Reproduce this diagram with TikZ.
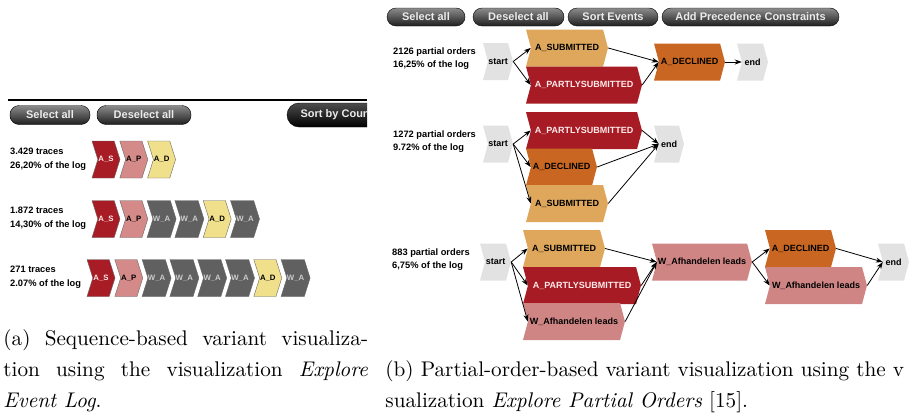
\documentclass[tikz,border=0pt]{standalone}
\usepackage{amsmath}
\usepackage{fontspec}
\setsansfont{Liberation Sans}
\usepackage{tikz}
\usetikzlibrary{shapes.symbols,arrows.meta}

\definecolor{asub}{HTML}{DEA75C}
\definecolor{apart}{HTML}{A61B24}
\definecolor{adecl}{HTML}{C96722}
\definecolor{wafh}{HTML}{D08585}
\definecolor{bound}{HTML}{E2E2E2}
\definecolor{seqS}{HTML}{A81C25}
\definecolor{seqP}{HTML}{D58A8A}
\definecolor{seqW}{HTML}{606060}
\definecolor{seqD}{HTML}{F0E08C}

\begin{document}
\begin{tikzpicture}[x=1pt,y=-1pt,
  btn/.style={draw=black,rounded corners=9pt,top color=black!45,bottom color=black!88,
    text=black!8,minimum height=19pt,inner sep=0pt,font=\sffamily\bfseries\fontsize{11}{12}\selectfont},
  seq/.style={shape=signal,signal from=west,signal to=east,signal pointer angle=145,
    draw=black!60,minimum width=28pt,minimum height=37pt,inner sep=0pt,
    font=\sffamily\bfseries\fontsize{7.8}{9}\selectfont},
  po/.style={shape=signal,signal from=west,signal to=east,signal pointer angle=150,
    minimum height=37pt,inner sep=0pt,font=\sffamily\bfseries\fontsize{9}{10}\selectfont},
  lbl/.style={align=left,anchor=west,inner sep=0pt,font=\sffamily\bfseries\fontsize{9.3}{13.5}\selectfont},
  captext/.style={anchor=base west,inner sep=0pt,scale=2.12},
  arr/.style={black,line width=0.8pt,-{Stealth[length=7pt,width=5pt]}}]
\clip (0,0) rectangle (913,415);

% (a) sequences
\draw [black,line width=1.2pt] (8,100) -- (367,100);
\node [btn,minimum width=80pt] (selA) at (50,115) {Select all};
\node [btn,minimum width=94pt] (deselA) at (144,115) {Deselect all};
\begin{scope}
\clip (0,95) rectangle (367,135);
\node [btn,minimum width=100pt,minimum height=24pt,rounded corners=12pt,top color=black!70,bottom color=black,
  font=\sffamily\bfseries\fontsize{11}{12}\selectfont] (sortA) at (337,115) {Sort by Count};
\end{scope}

\node [lbl] (tr1) at (10,159) {3.429 traces\\26,20\% of the log};
\node [seq,fill=seqS,text=red!8] (s11) at (106,159.5) {A\_S};
\node [seq,fill=seqP,text=black] (s12) at (133.8,159.5) {A\_P};
\node [seq,fill=seqD,text=black] (s13) at (161.6,159.5) {A\_D};

\node [lbl] (tr2) at (10,218) {1.872 traces\\14,30\% of the log};
\node [seq,fill=seqS,text=red!8] (s21) at (106,219) {A\_S};
\node [seq,fill=seqP,text=black] (s22) at (133.8,219) {A\_P};
\node [seq,fill=seqW,text=black!20] (s23) at (161.6,219) {W\_A};
\node [seq,fill=seqW,text=black!20] (s24) at (189.4,219) {W\_A};
\node [seq,fill=seqD,text=black] (s25) at (217.2,219) {A\_D};
\node [seq,fill=seqW,text=black!20] (s26) at (245,219) {W\_A};

\node [lbl] (tr3) at (10,277) {271 traces\\2.07\% of the log};
\node [seq,fill=seqS,text=red!8] (s31) at (101,278) {A\_S};
\node [seq,fill=seqP,text=black] (s32) at (128.8,278) {A\_P};
\node [seq,fill=seqW,text=black!20] (s33) at (156.6,278) {W\_A};
\node [seq,fill=seqW,text=black!20] (s34) at (184.4,278) {W\_A};
\node [seq,fill=seqW,text=black!20] (s35) at (212.2,278) {W\_A};
\node [seq,fill=seqW,text=black!20] (s36) at (240,278) {W\_A};
\node [seq,fill=seqD,text=black] (s37) at (267.8,278) {A\_D};
\node [seq,fill=seqW,text=black!20] (s38) at (295.6,278) {W\_A};

% (b) partial orders
\node [btn,minimum width=78pt,minimum height=18pt] (selB) at (426,17) {Select all};
\node [btn,minimum width=91pt,minimum height=18pt] (deselB) at (518.5,17) {Deselect all};
\node [btn,minimum width=90pt,minimum height=18pt] (sortB) at (613,17) {Sort Events};
\node [btn,minimum width=177pt,minimum height=18pt] (precB) at (750.5,17) {Add Precedence Constraints};

\node [lbl] (po1) at (393,58.5) {2126 partial orders\\16,25\% of the log};
\node [po,fill=bound,minimum width=30pt] (start1) at (498,61.5) {start};
\node [po,fill=asub,minimum width=82pt] (sub1) at (567,48) {A\_SUBMITTED};
\node [po,fill=apart,text=red!8,minimum width=116pt] (part1) at (584,85) {A\_PARTLYSUBMITTED};
\node [po,fill=adecl,minimum width=71pt] (decl1) at (689.5,62) {A\_DECLINED};
\node [po,fill=bound,minimum width=31pt] (end1) at (752.5,62) {end};
\draw [arr] (start1.east) -- (sub1.west);
\draw [arr] (start1.east) -- (part1.west);
\draw [arr] (sub1.east) -- (decl1.west);
\draw [arr] (part1.east) -- (decl1.west);
\draw [arr] (decl1.east) -- (end1.west);

\node [lbl] (po2) at (393,141.5) {1272 partial orders\\9.72\% of the log};
\node [po,fill=bound,minimum width=30pt] (start2) at (498,144) {start};
\node [po,fill=apart,text=red!8,minimum width=116pt] (part2) at (584,130.5) {A\_PARTLYSUBMITTED};
\node [po,fill=adecl,minimum width=71pt] (decl2) at (561.5,167) {A\_DECLINED};
\node [po,fill=asub,minimum width=82pt] (sub2) at (567,203.5) {A\_SUBMITTED};
\node [po,fill=bound,minimum width=30pt] (end2) at (669,144) {end};
\draw [arr] (start2.east) -- (part2.west);
\draw [arr] (start2.east) -- (decl2.west);
\draw [arr] (start2.east) -- (sub2.west);
\draw [arr] (part2.east) -- (end2.west);
\draw [arr] (decl2.east) -- (end2.west);
\draw [arr] (sub2.east) -- (end2.west);

\node [lbl] (po3) at (392,259.5) {883 partial orders\\6,75\% of the log};
\node [po,fill=bound,minimum width=31pt] (start3) at (495.5,262) {start};
\node [po,fill=asub,minimum width=82pt] (sub3) at (564,248.5) {A\_SUBMITTED};
\node [po,fill=apart,text=red!8,minimum width=118pt] (part3) at (582,285.5) {A\_PARTLYSUBMITTED};
\node [po,fill=wafh,minimum width=102pt] (wafh1) at (574,321.5) {W\_Afhandelen leads};
\node [po,fill=wafh,minimum width=100pt] (wafh2) at (702,262) {W\_Afhandelen leads};
\node [po,fill=adecl,minimum width=71pt] (decl3) at (800.5,248.5) {A\_DECLINED};
\node [po,fill=wafh,minimum width=102pt] (wafh3) at (816,285.5) {W\_Afhandelen leads};
\node [po,fill=bound,minimum width=31pt] (end3) at (893.5,262) {end};
\draw [arr] (start3.east) -- (sub3.west);
\draw [arr] (start3.east) -- (part3.west);
\draw [arr] (start3.east) -- (wafh1.west);
\draw [arr] (sub3.east) -- (wafh2.west);
\draw [arr] (part3.east) -- (wafh2.west);
\draw [arr] (wafh1.east) -- (wafh2.west);
\draw [arr] (wafh2.east) -- (decl3.west);
\draw [arr] (wafh2.east) -- (wafh3.west);
\draw [arr] (decl3.east) -- (end3.west);
\draw [arr] (wafh3.east) -- (end3.west);

% captions
\node [captext] (capA1) at (3,345) {\makebox[172pt][s]{(a) Sequence-based variant visualiza-}};
\node [captext] (capA2) at (3,376) {\makebox[172pt][s]{tion using the visualization \textit{Explore}}};
\node [captext] (capA3) at (3,407) {\textit{Event Log}.};
\node [captext] (capB1) at (385,376) {(b) Partial-order-based variant visualization using the v};
\node [captext] (capB2) at (385,407) {sualization \textit{Explore Partial Orders} [15].};
\end{tikzpicture}
\end{document}
